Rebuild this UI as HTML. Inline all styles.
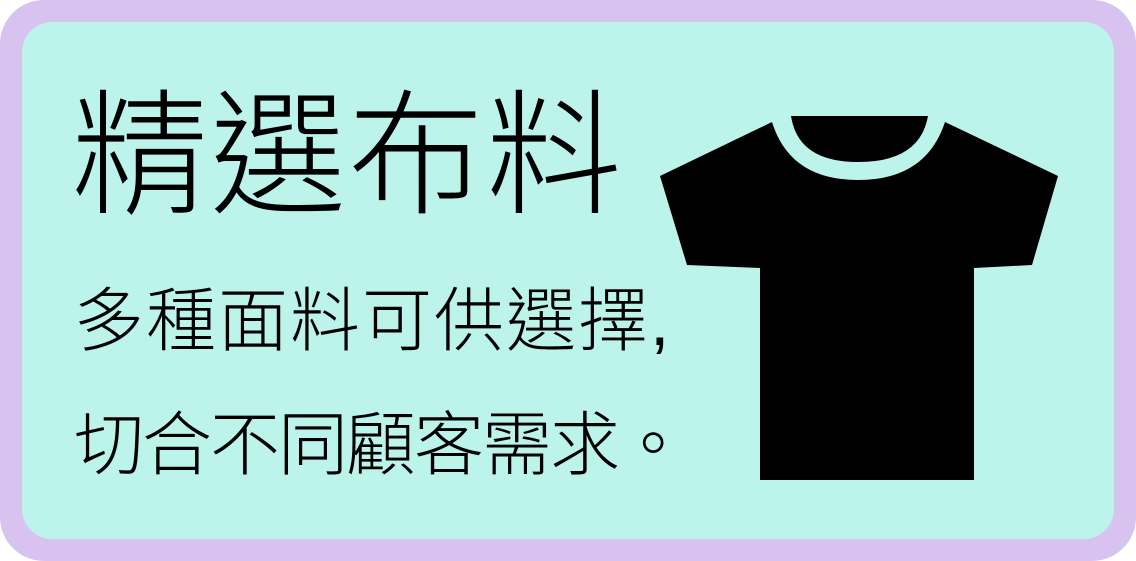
<!DOCTYPE html>
<html><head><meta charset="utf-8"><style>
html,body{margin:0;padding:0;width:1136px;height:561px;overflow:hidden;background:#fff}
.outer{position:absolute;left:0;top:0;width:1136px;height:561px;background:#d8c2ef;border-radius:44px}
.inner{position:absolute;left:22px;top:22px;width:1092px;height:517px;background:#bcf3eb;border-radius:30px}
.t{position:absolute;font-family:"Liberation Sans","Noto Sans CJK TC",sans-serif;color:#000;font-weight:300;white-space:nowrap;line-height:1}
</style></head><body>
<div class="outer"></div>
<div class="inner"></div>
<div class="t" style="left:72px;top:88px;font-size:136px;letter-spacing:2px">精選布料</div>
<div class="t" style="left:74px;top:286px;font-size:70px;letter-spacing:2px">多種面料可供選擇,</div>
<div class="t" style="left:74px;top:410px;font-size:70px;letter-spacing:-2px">切合不同顧客需求。</div>
<svg style="position:absolute;left:0;top:0" width="1136" height="561">
<polygon points="660,176 772,122 945,122 1058,176 1032,265 974,268 974,480 760,480 760,268 687,265" fill="#000"/>
<path d="M772,122 Q790,180 858,180 Q926,180 945,122 Z" fill="#bcf3eb"/>
<path d="M791,116 L928,116 Q920,162 858,162 Q798,162 791,116 Z" fill="#000"/>
</svg>
</body></html>
